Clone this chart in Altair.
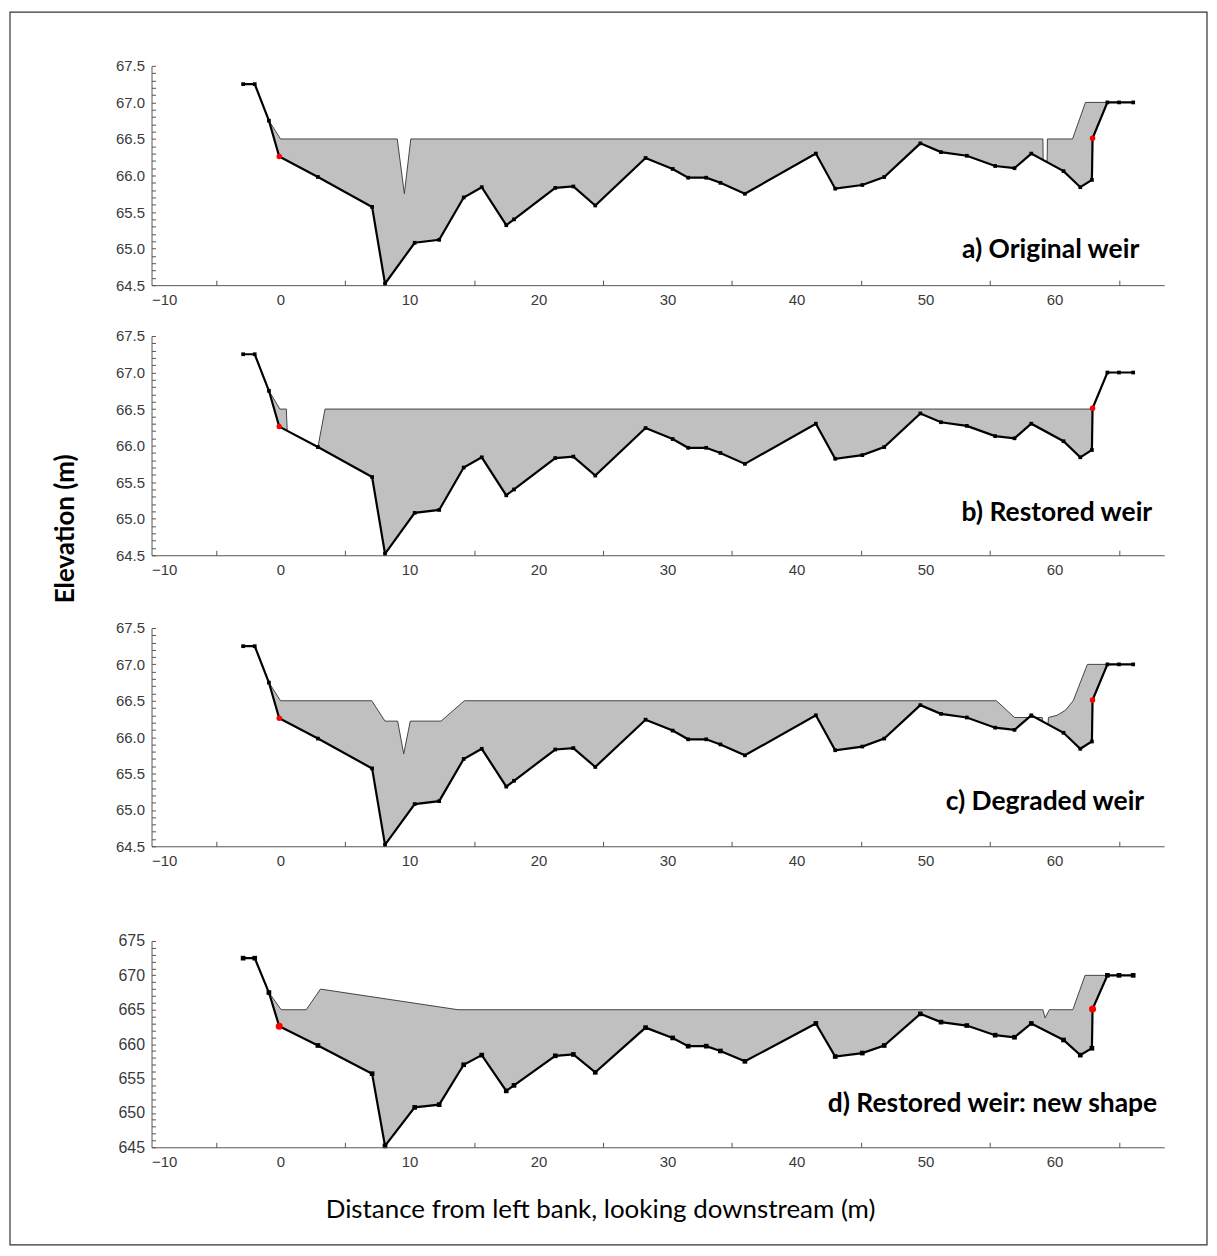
import altair as alt
import pandas as pd

# ---------------- data ----------------
bed_x = [-2.9, -2.0, -0.9, -0.1, 2.9, 7.1, 8.1, 10.4, 12.3, 14.2, 15.6, 17.5, 18.1,
         21.3, 22.7, 24.4, 28.3, 30.4, 31.6, 33.0, 34.1, 36.0, 41.5, 43.0, 45.1,
         46.8, 49.6, 51.2, 53.2, 55.4, 56.9, 58.2, 60.7, 62.0, 62.9, 62.95, 64.1,
         65.0, 66.1]
bed_y = [67.25, 67.25, 66.75, 66.26, 65.98, 65.57, 64.52, 65.08, 65.12, 65.70, 65.84,
         65.32, 65.40, 65.83, 65.85, 65.59, 66.24, 66.09, 65.97, 65.97, 65.90, 65.75,
         66.30, 65.82, 65.87, 65.98, 66.44, 66.32, 66.27, 66.13, 66.10, 66.30, 66.06,
         65.84, 65.94, 66.51, 67.0, 67.0, 67.0]

red_x = [-0.1, 62.95]
red_y = [66.26, 66.51]

# weir crest (top of the grey area) for each scenario
a_x = [-0.9, 0.0, 9.05, 9.6, 10.1, 59.1, 59.12, 59.43, 59.45, 61.4, 62.4, 64.1]
a_y = [66.75, 66.5, 66.5, 65.75, 66.5, 66.5, 66.21, 66.19, 66.5, 66.5, 67.0, 67.0]

b_x = [-0.9, -0.05, 0.45, 0.52, 2.9, 3.45, 62.95]
b_y = [66.75, 66.5, 66.5, 66.2, 65.98, 66.5, 66.5]

c_x = [-0.9, 0.0, 7.07, 8.1, 9.08, 9.55, 10.06, 12.44, 14.25, 55.5, 56.9, 59.05,
       59.08, 59.5, 59.53, 60.2, 60.85, 61.45, 62.55, 64.1]
c_y = [66.75, 66.5, 66.5, 66.22, 66.22, 65.77, 66.22, 66.22, 66.5, 66.5, 66.27, 66.27,
       66.21, 66.18, 66.27, 66.30, 66.37, 66.5, 67.0, 67.0]

d_x = [-0.9, 0.05, 1.99, 3.1, 13.76, 59.1, 59.27, 59.6, 61.42, 62.37, 64.05]
d_y = [66.75, 66.5, 66.5, 66.8, 66.5, 66.5, 66.38, 66.5, 66.5, 67.0, 67.0]

labels = ["a) Original weir", "b) Restored weir", "c) Degraded weir",
          "d) Restored weir: new shape"]

x_major = [-10, 0, 10, 20, 30, 40, 50, 60]
x_minor = [-5, 5, 15, 25, 35, 45, 55, 65]
y_major = [64.5, 65.0, 65.5, 66.0, 66.5, 67.0, 67.5]
y_minor = [round(64.5 + 0.1 * i, 1) for i in range(31)]

X_DOMAIN = [-10, 68.5]
Y_DOMAIN = [64.5, 67.5]
W = 1016

bed_df = pd.DataFrame({"x": bed_x, "y": bed_y})
red_df = pd.DataFrame({"x": red_x, "y": red_y})

LABEL_FONT = "Liberation Sans"
TEXT_FONT = "Lato"
LABEL_COLOR = "#3a3a3a"
NO_VIEW = alt.ViewBackground(stroke="transparent", strokeWidth=0)


def panel(cx, cy, label, lx, ly, H, sq, rs, frame=False, ytitle=False,
          xtitle=False, nodot=False, lfs=15):
    xs = alt.Scale(domain=X_DOMAIN, nice=False, zero=False)
    ys = alt.Scale(domain=Y_DOMAIN, nice=False, zero=False)
    crest_df = pd.DataFrame({"x": cx, "y": cy})

    xax = dict(values=x_major, format="d", grid=False, ticks=False,
               labelFont=LABEL_FONT, labelFontSize=15, labelColor=LABEL_COLOR,
               labelPadding=7, domainColor="#555", domainWidth=1, title=None,
               zindex=2)
    if xtitle:
        xax.update(title="Distance from left bank, looking downstream (m)",
                   titleX=450, titleY=62, titleFont=TEXT_FONT, titleFontSize=26,
                   titleFontWeight="normal", titleColor="black",
                   titleAlign="center", titleBaseline="middle")
    yax = dict(values=y_major, format=".1f", grid=False, ticks=False,
               labelFont=LABEL_FONT, labelFontSize=lfs, labelColor=LABEL_COLOR,
               labelPadding=7, domainColor="#555", domainWidth=1, title=None,
               zindex=2)
    if nodot:
        yax["labelExpr"] = "replace(format(datum.value, '.1f'), '.', '')"
    if ytitle:
        yax.update(title="Elevation (m)", titleX=-86, titleY=193, titleAngle=270,
                   titleFont=TEXT_FONT, titleFontSize=26, titleFontWeight="bold",
                   titleColor="black", titleAlign="center", titleBaseline="middle")

    gray = alt.Chart(crest_df).mark_area(color="#c0c0c0").encode(
        x=alt.X("x:Q", scale=xs, axis=alt.Axis(**xax)),
        y=alt.Y("y:Q", scale=ys, axis=alt.Axis(**yax)),
        y2=alt.datum(64.5),
    ).properties(view=NO_VIEW)
    white = alt.Chart(bed_df).mark_area(color="white", stroke="white",
                                        strokeWidth=1).encode(
        x=alt.X("x:Q", axis=None),
        y=alt.Y("y:Q", axis=None),
        y2=alt.datum(64.5),
    ).properties(view=NO_VIEW)
    crest_line = alt.Chart(crest_df).mark_line(color="#444", strokeWidth=1).encode(
        x=alt.X("x:Q", axis=None), y=alt.Y("y:Q", axis=None)
    ).properties(view=NO_VIEW)
    bed_line = alt.Chart(bed_df).mark_line(
        color="black", strokeWidth=2.2,
        point=alt.OverlayMarkDef(shape="square", size=sq, color="black",
                                 filled=True, opacity=1),
    ).encode(x=alt.X("x:Q", axis=None), y=alt.Y("y:Q", axis=None)
             ).properties(view=NO_VIEW)
    red = alt.Chart(red_df).mark_point(shape="circle", filled=True, color="red",
                                       size=rs, opacity=1).encode(
        x=alt.X("x:Q", axis=None), y=alt.Y("y:Q", axis=None)
    ).properties(view=NO_VIEW)
    minor = alt.Chart(bed_df).mark_point(opacity=0).encode(
        x=alt.X("x:Q", axis=alt.Axis(orient="top", offset=-H, values=x_minor,
                                      labels=False, domain=False, grid=False,
                                      tickSize=5, tickColor="#555", title=None,
                                      zindex=2)),
        y=alt.Y("y:Q", axis=alt.Axis(orient="right", offset=-W, values=y_minor,
                                      labels=False, domain=False, grid=False,
                                      tickSize=4, tickColor="#555", title=None,
                                      zindex=2)),
    ).properties(view=NO_VIEW)
    text = alt.Chart(pd.DataFrame({"label": [label]})).mark_text(
        align="right", baseline="middle", font=TEXT_FONT, fontSize=26.5,
        fontWeight="bold", color="black",
    ).encode(x=alt.value(lx), y=alt.value(ly), text="label:N"
             ).properties(view=NO_VIEW)

    layers = [gray, white, crest_line, bed_line, red, minor, text]
    if frame:
        fr = alt.Chart(pd.DataFrame({"k": [0]})).mark_rect(
            fill="white", fillOpacity=0, stroke="#333", strokeWidth=1.2
        ).encode(x=alt.value(-142), y=alt.value(-54), x2=alt.value(1059),
                 y2=alt.value(1183)).properties(view=NO_VIEW)
        layers.append(fr)
    return alt.layer(*layers).resolve_axis(
        x="independent", y="independent").properties(width=W, height=H,
                                                     view=NO_VIEW)


pa = panel(a_x, a_y, labels[0], 991, 185, 220, 14, 30, frame=True)
pb = panel(b_x, b_y, labels[1], 1004, 178, 220, 14, 30, ytitle=True)
pc = panel(c_x, c_y, labels[2], 996, 175, 219, 14, 30)
pd_ = panel(d_x, d_y, labels[3], 1009, 164, 207, 22, 50, xtitle=True, nodot=True,
            lfs=16)

chart = alt.vconcat(
    pa,
    alt.vconcat(
        pb,
        alt.vconcat(pc, pd_, spacing=95, bounds="flush"),
        spacing=73, bounds="flush",
    ),
    spacing=51, bounds="flush",
).properties(
    padding={"left": 1, "top": 1, "right": 1, "bottom": 1}
).configure_view(stroke="transparent", strokeWidth=0).configure(background="white")

chart.save("out.html", embed_options={"renderer": "svg", "actions": False})
